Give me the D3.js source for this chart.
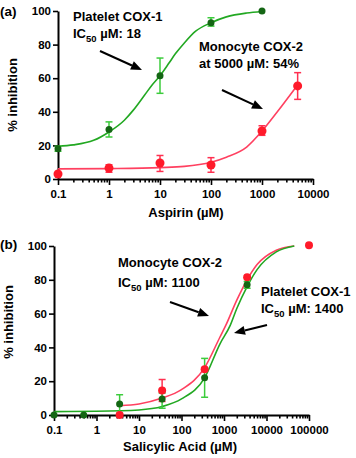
<!DOCTYPE html>
<html><head><meta charset="utf-8">
<script src="https://cdn.jsdelivr.net/npm/d3@7"></script>
<style>
body{margin:0;background:#fff;}
svg{display:block;font-family:"Liberation Sans",Arial,sans-serif;font-weight:bold;}
</style></head><body>
<svg id="c" width="356" height="458"></svg>
<script>
// ---------- Data: panel (a) Aspirin ----------
const aTicksX = [0.1, 1, 10, 100, 1000, 10000];
const aGreenX = [0.1, 1, 10, 100, 1000];
const aGreenY = [18, 29.5, 61.5, 93, 100];
const aGreenLo = [16.5, 25, 51, 91, null];
const aGreenHi = [19.5, 34, 72, 96, null];
const aRedX = [0.1, 1, 10, 100, 1000, 5000];
const aRedY = [3, 6.5, 9.5, 8.3, 28.6, 55.4];
const aRedLo = [null, 4, 4.5, 4, 26, 47.4];
const aRedHi = [null, 8.5, 14, 12.7, 31.7, 63.3];
const aGreenCurveX = [0.1, 0.2, 0.5, 1, 2, 3, 5, 7, 10, 15, 20, 30, 50, 100, 200, 500, 1000];
const aGreenCurveY = [19.5, 20.3, 23, 28, 35, 41, 50, 56, 61.5, 69, 74.5, 81, 88, 93, 96.5, 98.8, 99.7];
const aRedCurveX = [0.1, 1, 10, 30, 100, 200, 500, 1000, 2000, 5000];
const aRedCurveY = [6, 6.2, 6.8, 7.5, 10, 13, 19, 28.5, 40, 56];

// ---------- Data: panel (b) Salicylic acid ----------
const bTicksX = [0.1, 1, 10, 100, 1000, 10000, 100000];
const bGreenX = [0.1, 0.5, 3.5, 35, 350, 3500];
const bGreenY = [0, 0, 6.5, 9.5, 22, 77];
const bGreenLo = [null, null, 1, 4, 10.5, 75];
const bGreenHi = [null, null, 12, 13, 33.5, 79];
const bRedX = [3.5, 35, 350, 3500, 100000];
const bRedY = [0, 14.5, 27, 81.5, 100.5];
const bRedLo = [null, 8, null, null, null];
const bRedHi = [null, 21, null, null, null];
const bGreenCurveX = [0.1, 1, 10, 35, 100, 350, 800, 1400, 2000, 3500, 6000, 17000, 45000];
const bGreenCurveY = [2, 2.2, 3, 5, 9.5, 22, 42, 53, 63, 76, 86, 96.5, 100];
const bRedCurveX = [3.5, 10, 35, 100, 350, 800, 1100, 2000, 3500, 6000, 17000, 45000];
const bRedCurveY = [5.5, 6.5, 10, 15, 28, 46, 53, 68, 80, 89, 97.5, 100];

const yTicks = [0, 20, 40, 60, 80, 100];

const GREEN_LINE = "#22a822", GREEN_DOT = "#146614", GREEN_ERR = "#3ccc3c";
const RED_LINE = "#ff4060", RED_DOT = "#ff1a2a", RED_ERR = "#ff3050";

const svg = d3.select("#c");

function minorTicks(domain) {
  const out = [];
  const lo = Math.log10(domain[0]), hi = Math.log10(domain[1]);
  for (let e = Math.round(lo); e < Math.round(hi); e++)
    for (let m = 2; m <= 9; m++) out.push(m * Math.pow(10, e));
  return out;
}

function fmt(v) { return v < 1 ? String(v) : d3.format("d")(v); }

function panel(cfg) {
  const x = d3.scaleLog().domain(cfg.xDomain).range(cfg.xRange);
  const y = d3.scaleLinear().domain([0, 100]).range(cfg.yRange);
  const g = svg.append("g");

  // y axis
  const ya = g.append("g").attr("transform", `translate(${cfg.xRange[0]},0)`)
    .call(d3.axisLeft(y).tickValues(yTicks).tickSize(5).tickSizeOuter(0).tickPadding(2));
  // x axis major
  const xa = g.append("g").attr("transform", `translate(0,${cfg.yRange[0]})`)
    .call(d3.axisBottom(x).tickValues(cfg.xTicks).tickFormat(fmt).tickSize(6).tickSizeOuter(0).tickPadding(5));
  // x axis minor
  const xm = g.append("g").attr("transform", `translate(0,${cfg.yRange[0]})`)
    .call(d3.axisBottom(x).tickValues(minorTicks(cfg.xDomain)).tickFormat("").tickSize(3.5).tickSizeOuter(0));
  xm.select(".domain").remove();
  [ya, xa, xm].forEach(a => {
    a.selectAll(".domain").attr("stroke", "#000").attr("stroke-width", 2);
    a.selectAll(".tick line").attr("stroke", "#000").attr("stroke-width", 1.6);
    a.selectAll("text").attr("fill", "#000").attr("font-size", 11.5)
      .attr("font-family", '"Liberation Sans",Arial,sans-serif').attr("font-weight", "bold");
  });

  // axis titles
  g.append("text").attr("x", cfg.xTitlePos[0]).attr("y", cfg.xTitlePos[1])
    .attr("text-anchor", "middle").attr("font-size", 13).text(cfg.xTitle);
  g.append("text").attr("transform", `translate(${cfg.yTitlePos[0]},${cfg.yTitlePos[1]}) rotate(-90)`)
    .attr("text-anchor", "middle").attr("font-size", 13).text("% inhibition");
  g.append("text").attr("x", 0).attr("y", cfg.labelY).attr("font-size", 13.5).text(cfg.label);

  const line = d3.line().x(d => x(d[0])).y(d => y(d[1])).curve(d3.curveMonotoneX);

  cfg.series.forEach(s => {
    const pts = s.cx.map((v, i) => [v, s.cy[i]]);
    g.append("path").attr("d", line(pts)).attr("fill", "none")
      .attr("stroke", s.line).attr("stroke-width", 1.6);
  });
  cfg.series.forEach(s => {
    s.x.forEach((v, i) => {
      if (s.lo[i] == null) return;
      const px = x(v);
      const eg = g.append("g").attr("stroke", s.err).attr("stroke-width", 1.5);
      eg.append("line").attr("x1", px).attr("x2", px).attr("y1", y(s.lo[i])).attr("y2", y(s.hi[i]));
      eg.append("line").attr("x1", px - 3.5).attr("x2", px + 3.5).attr("y1", y(s.lo[i])).attr("y2", y(s.lo[i]));
      eg.append("line").attr("x1", px - 3.5).attr("x2", px + 3.5).attr("y1", y(s.hi[i])).attr("y2", y(s.hi[i]));
    });
  });
  cfg.series.forEach(s => {
    g.selectAll(null).data(s.x.map((v, i) => [v, s.y[i]])).enter().append("circle")
      .attr("cx", d => x(d[0])).attr("cy", d => y(d[1])).attr("r", s.r).attr("fill", s.dot);
  });
  return g;
}

function arrow(x1, y1, x2, y2) {
  const ang = Math.atan2(y2 - y1, x2 - x1);
  const L = 11, W = 4.5;
  const bx = x2 - L * Math.cos(ang), by = y2 - L * Math.sin(ang);
  svg.append("line").attr("x1", x1).attr("y1", y1).attr("x2", bx).attr("y2", by)
    .attr("stroke", "#000").attr("stroke-width", 2);
  const px = -Math.sin(ang) * W, py = Math.cos(ang) * W;
  svg.append("path").attr("d", `M${x2},${y2}L${bx + px},${by + py}L${bx - px},${by - py}Z`).attr("fill", "#000");
}

function icText(x, y, value) {
  const t = svg.append("text").attr("x", x).attr("y", y).attr("font-size", 13);
  t.append("tspan").text("IC");
  t.append("tspan").attr("dy", 4).attr("font-size", 9.5).text("50");
  t.append("tspan").attr("dy", -4).text(" \u00b5M: " + value);
}
function plainText(x, y, s) {
  svg.append("text").attr("x", x).attr("y", y).attr("font-size", 13).text(s);
}

panel({
  xDomain: [0.1, 10000], xRange: [58, 313], yRange: [179, 11], xTicks: aTicksX,
  xTitle: "Aspirin (\u00b5M)", xTitlePos: [186, 217], yTitlePos: [17, 95], label: "(a)", labelY: 16,
  series: [
    {x: aRedX, y: aRedY, lo: aRedLo, hi: aRedHi, cx: aRedCurveX, cy: aRedCurveY, line: RED_LINE, dot: RED_DOT, err: RED_ERR, r: 4.5},
    {x: aGreenX, y: aGreenY, lo: aGreenLo, hi: aGreenHi, cx: aGreenCurveX, cy: aGreenCurveY, line: GREEN_LINE, dot: GREEN_DOT, err: GREEN_ERR, r: 3.5}
  ]
});
panel({
  xDomain: [0.1, 100000], xRange: [54, 309], yRange: [415, 246], xTicks: bTicksX,
  xTitle: "Salicylic Acid (\u00b5M)", xTitlePos: [180, 451], yTitlePos: [13, 322], label: "(b)", labelY: 249,
  series: [
    {x: bRedX, y: bRedY, lo: bRedLo, hi: bRedHi, cx: bRedCurveX, cy: bRedCurveY, line: RED_LINE, dot: RED_DOT, err: RED_ERR, r: 4},
    {x: bGreenX, y: bGreenY, lo: bGreenLo, hi: bGreenHi, cx: bGreenCurveX, cy: bGreenCurveY, line: GREEN_LINE, dot: GREEN_DOT, err: GREEN_ERR, r: 3.5}
  ]
});

// annotations (a)
plainText(73, 21, "Platelet COX-1");
icText(73, 38, "18");
arrow(100, 51, 142, 70);
plainText(199, 51, "Monocyte COX-2");
plainText(199, 68, "at 5000 \u00b5M: 54%");
arrow(222, 90, 263, 109);
// annotations (b)
plainText(118, 267, "Monocyte COX-2");
icText(118, 287, "1100");
arrow(170, 302, 209, 316);
plainText(261, 296, "Platelet COX-1");
icText(261, 313, "1400");
arrow(267, 325, 234, 333);
</script>
</body></html>
